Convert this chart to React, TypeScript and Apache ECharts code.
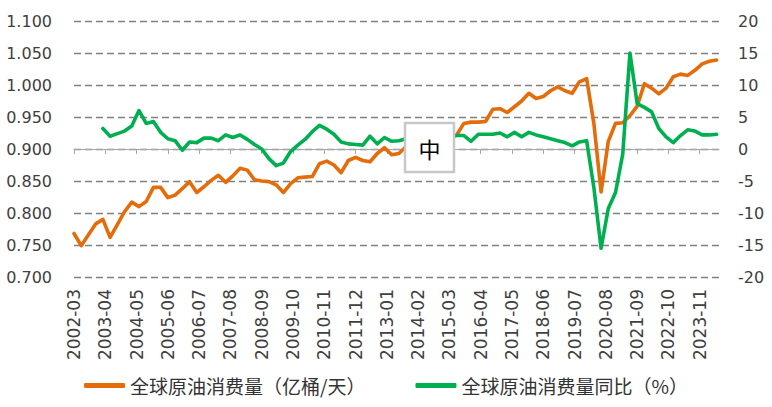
import React, { useEffect, useRef } from "react";
import * as echarts from "echarts";

// Monthly category axis: 2002-03 .. 2024-07
const START_YEAR = 2002;
const START_MONTH = 3;
const MONTH_COUNT = 269;

// Quarterly observations (2002-03, 2002-06, ... 2024-06)
const consumption: number[] = [
  0.768, 0.749, 0.766, 0.783, 0.790, 0.762, 0.782, 0.802, 0.817, 0.810,
  0.818, 0.840, 0.840, 0.824, 0.828, 0.838, 0.849, 0.832, 0.841, 0.851,
  0.859, 0.848, 0.858, 0.870, 0.867, 0.852, 0.850, 0.849, 0.844, 0.832,
  0.846, 0.855, 0.856, 0.857, 0.877, 0.881, 0.875, 0.863, 0.882, 0.887,
  0.882, 0.880, 0.893, 0.902, 0.891, 0.893, 0.904, 0.907, 0.903, 0.909,
  0.913, 0.911, 0.916, 0.922, 0.940, 0.942, 0.942, 0.943, 0.962, 0.963,
  0.957, 0.966, 0.975, 0.987, 0.979, 0.982, 0.991, 0.997, 0.991, 0.987,
  1.005, 1.010, 0.940, 0.833, 0.912, 0.940, 0.941, 0.952, 0.967, 1.002,
  0.995, 0.986, 0.995, 1.013, 1.017, 1.015, 1.023, 1.033, 1.037, 1.039,
];

const yoy: (number | null)[] = [
  null, null, null, null, 3.2, 2.0, 2.4, 2.8, 3.6, 6.0,
  4.0, 4.3, 2.6, 1.6, 1.3, -0.2, 1.1, 1.0, 1.7, 1.7,
  1.3, 2.2, 1.8, 2.2, 1.5, 0.7, 0.0, -1.5, -2.6, -2.2,
  -0.4, 0.6, 1.5, 2.7, 3.7, 3.1, 2.3, 1.1, 0.8, 0.7,
  0.6, 2.0, 0.8, 1.8, 1.2, 1.3, 1.6, 1.5, 1.8, 1.4,
  1.9, 2.1, 2.0, 2.1, 2.1, 1.2, 2.3, 2.3, 2.3, 2.5,
  1.9, 2.6, 1.9, 2.6, 2.2, 1.9, 1.6, 1.3, 1.0, 0.5,
  1.1, 1.3, -6.0, -15.5, -9.3, -6.8, -0.8, 15.0, 7.1, 6.5,
  5.8, 3.2, 1.9, 1.0, 2.1, 3.0, 2.8, 2.2, 2.2, 2.3,
];

const SERIES_A = "全球原油消费量（亿桶/天）";
const SERIES_B = "全球原油消费量同比（%）";

const leftTicks = { min: 0.7, max: 1.1, interval: 0.05 };
const rightTicks = { min: -20, max: 20, interval: 5 };

function buildMonths(): string[] {
  const out: string[] = [];
  for (let i = 0; i < MONTH_COUNT; i++) {
    const t = START_MONTH - 1 + i;
    const y = START_YEAR + Math.floor(t / 12);
    const m = (t % 12) + 1;
    out.push(`${y}-${m < 10 ? "0" + m : m}`);
  }
  return out;
}

export default function App() {
  const ref = useRef<HTMLDivElement>(null);

  useEffect(() => {
    if (!ref.current) return;
    const chart = echarts.init(ref.current, undefined, { renderer: "svg" });
    const months = buildMonths();
    const quarters = months.filter((m) => ["03", "06", "09", "12"].includes(m.slice(5)));
    const dataA = consumption.map((v, i) => [quarters[i], v]);
    const dataB: any[] = [];
    yoy.forEach((v, i) => {
      if (v !== null) dataB.push([quarters[i], v]);
    });

    const labelColor = "#404040";
    chart.setOption({
      animation: false,
      backgroundColor: "#ffffff",
      grid: { left: 74, right: 53, top: 21, bottom: 130, containLabel: false },
      legend: {
        left: 84,
        top: 376,
        padding: 0,
        itemWidth: 41,
        itemHeight: 5,
        itemGap: 50,
        icon: "roundRect",
        textStyle: { fontFamily: "Noto Sans CJK SC", fontSize: 19, color: "#333333" },
        data: [SERIES_A, SERIES_B],
      },
      xAxis: {
        type: "category",
        data: months,
        boundaryGap: false,
        axisLine: { lineStyle: { color: "#A6A6A6", width: 1 } },
        axisTick: { show: true, interval: 12, length: 5, lineStyle: { color: "#A6A6A6" } },
        axisLabel: {
          interval: 12,
          rotate: 90,
          margin: 12,
          fontFamily: "DejaVu Sans",
          fontSize: 17,
          color: labelColor,
        },
        splitLine: { show: false },
      },
      yAxis: [
        {
          type: "value",
          position: "left",
          min: leftTicks.min,
          max: leftTicks.max,
          interval: leftTicks.interval,
          axisLine: { show: false },
          axisTick: { show: false },
          axisLabel: {
            margin: 22,
            fontFamily: "DejaVu Sans",
            fontSize: 16,
            color: labelColor,
            formatter: (v: number) => v.toFixed(3),
          },
          splitLine: { lineStyle: { type: [7, 4], color: "#808080", width: 1.4 } },
        },
        {
          type: "value",
          position: "right",
          min: rightTicks.min,
          max: rightTicks.max,
          interval: rightTicks.interval,
          axisLine: { show: false },
          axisTick: { show: false },
          axisLabel: {
            margin: 19,
            fontFamily: "DejaVu Sans",
            fontSize: 16,
            color: labelColor,
          },
          splitLine: { show: false },
        },
      ],
      series: [
        {
          name: SERIES_A,
          type: "line",
          yAxisIndex: 0,
          data: dataA,
          showSymbol: false,
          symbol: "none",
          itemStyle: { color: "#E46C0A" },
          lineStyle: { color: "#E46C0A", width: 3.6, join: "round", cap: "round" },
        },
        {
          name: SERIES_B,
          type: "line",
          yAxisIndex: 1,
          data: dataB,
          showSymbol: false,
          symbol: "none",
          itemStyle: { color: "#00B050" },
          lineStyle: { color: "#00B050", width: 3.6, join: "round", cap: "round" },
        },
      ],
      graphic: [
        {
          type: "group",
          z: 100,
          children: [
            {
              type: "rect",
              shape: { x: 405, y: 123, width: 49, height: 49 },
              style: { fill: "#ffffff", stroke: "#C8C8C8", lineWidth: 2.5 },
              z: 100,
            },
            {
              type: "text",
              x: 429.5,
              y: 147.5,
              z: 101,
              style: {
                text: "中",
                fontFamily: "Noto Sans CJK SC",
                fontSize: 22,
                fill: "#000000",
                align: "center",
                verticalAlign: "middle",
              },
            },
          ],
        },
      ],
    });
    return () => chart.dispose();
  }, []);

  return (
    <div
      ref={ref}
      style={{ position: "fixed", left: 0, top: 0, width: 772, height: 407, background: "#fff" }}
    />
  );
}
